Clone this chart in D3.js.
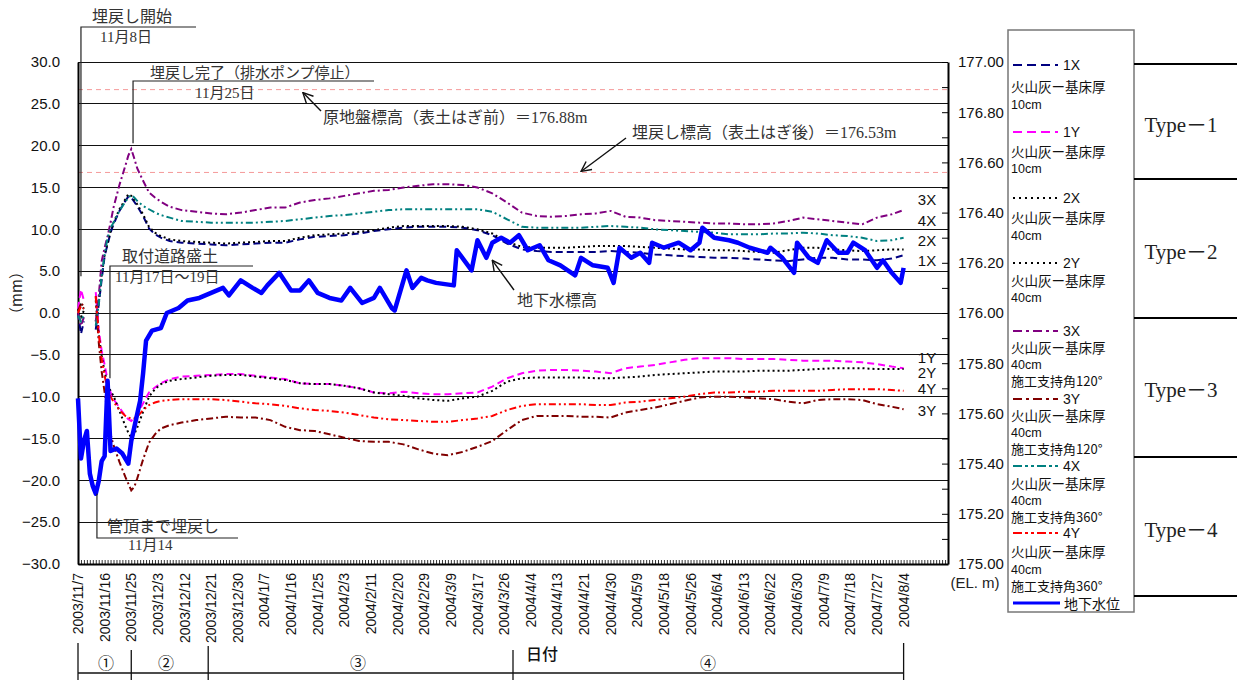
<!DOCTYPE html>
<html><head><meta charset="utf-8">
<script src="https://cdn.jsdelivr.net/npm/d3@7"></script>
<style>body{margin:0;background:#fff} svg{display:block}</style>
</head><body><svg id="c" width="1237" height="680"></svg>
<script>
// ---------- DATA ----------
const xLabels = ['2003/11/7','2003/11/16','2003/11/25','2003/12/3','2003/12/12','2003/12/21','2003/12/30','2004/1/7','2004/1/16','2004/1/25','2004/2/3','2004/2/11','2004/2/20','2004/2/29','2004/3/9','2004/3/17','2004/3/26','2004/4/4','2004/4/13','2004/4/21','2004/4/30','2004/5/9','2004/5/18','2004/5/26','2004/6/4','2004/6/13','2004/6/22','2004/6/30','2004/7/9','2004/7/18','2004/7/27','2004/8/4'];
const leftTicks = [-30,-25,-20,-15,-10,-5,0,5,10,15,20,25,30];
const rightTicks = [175.0,175.2,175.4,175.6,175.8,176.0,176.2,176.4,176.6,176.8,177.0];
const rightMinor = [175.0,175.1,175.2,175.3,175.4,175.5,175.6,175.7,175.8,175.9,176.0,176.1,176.2,176.3,176.4,176.5,176.6,176.7,176.8,176.9,177.0];

// category index of each displacement sample
const dIdx = [0,1,2,3,6,7,8,9,10,11,12,14,16,17,18,19,20,22,24,26,28,31,35,
  40,45,50,55,60,65,70,75,80,85,90,95,100,105,110,115,120,125,130,135,140,145,150,155,160,165,170,175,180,185,190,195,200,205,210,215,220,225,230,235,240,245,250,255,260,265,270,275,279];

const s1X = [0,-2.5,-1.0,null,-2.0,1.0,4.0,6.8,8.2,9.6,10.6,12.2,13.4,13.9,13.8,13.3,12.8,11.6,10.1,9.4,9.0,8.6,8.4,
  8.3,8.2,8.1,8.2,8.3,8.4,8.4,8.8,9.1,9.2,9.3,9.5,9.8,10.0,10.2,10.3,10.3,10.3,10.2,9.9,9.3,8.3,7.6,7.4,7.3,7.3,7.3,7.3,7.4,7.3,7.2,7.0,6.9,6.8,6.7,6.6,6.6,6.5,6.4,6.3,6.2,6.4,6.6,6.6,6.4,6.4,6.3,6.5,6.9];
const s1Y = [0.5,2.8,1.5,null,2.5,-2.0,-4.5,-6.2,-8.0,-9.5,-10.3,-11.3,-12.3,-12.7,-12.9,-12.6,-12.1,-10.8,-9.5,-8.9,-8.4,-7.9,-7.6,
  -7.5,-7.4,-7.3,-7.3,-7.5,-7.7,-7.9,-8.4,-8.5,-8.5,-8.7,-9.0,-9.5,-9.6,-9.4,-9.6,-9.7,-9.7,-9.6,-9.5,-8.8,-7.8,-7.2,-6.9,-6.8,-6.8,-6.9,-7.0,-7.2,-6.6,-6.4,-6.2,-5.9,-5.6,-5.4,-5.4,-5.4,-5.5,-5.5,-5.5,-5.6,-5.7,-5.7,-5.7,-5.8,-5.9,-6.1,-6.4,-6.6];
const s2X = [0,-0.5,0.3,null,-1.0,1.5,4.5,7.0,8.3,9.8,10.8,12.4,13.6,14.2,14.0,13.5,13.0,11.8,10.3,9.6,9.2,8.8,8.6,
  8.5,8.4,8.3,8.4,8.5,8.6,8.6,9.0,9.3,9.4,9.5,9.7,9.9,10.2,10.4,10.4,10.4,10.4,10.3,10.0,9.5,8.5,7.9,7.8,7.8,7.8,7.9,8.0,8.0,8.0,7.9,7.8,7.7,7.6,7.6,7.5,7.5,7.4,7.3,7.2,7.5,7.8,7.8,7.6,7.5,7.4,7.5,7.6,7.6];
const s2Y = [0.3,1.0,0.5,null,1.5,-2.5,-5.2,-7.0,-8.5,-9.3,-9.9,-11.7,-13.5,-14.3,-14.9,-14.5,-13.7,-11.8,-10.0,-9.1,-8.5,-8.1,-7.9,
  -7.7,-7.5,-7.4,-7.4,-7.6,-7.8,-8.0,-8.4,-8.5,-8.5,-8.7,-9.0,-9.5,-9.7,-9.9,-10.2,-10.4,-10.5,-10.2,-10.0,-9.3,-8.2,-7.8,-7.7,-7.7,-7.7,-7.7,-7.8,-7.8,-7.7,-7.6,-7.4,-7.3,-7.2,-7.1,-7.0,-7.0,-7.0,-6.9,-6.9,-6.9,-6.8,-6.7,-6.6,-6.6,-6.6,-6.7,-6.7,-6.7];
const s3X = [0,-1.5,-0.5,null,-1.0,2.0,6.2,7.8,9.2,10.8,12.6,15.3,17.6,18.8,19.6,18.5,17.3,15.8,14.4,13.8,13.3,12.7,12.3,
  12.1,11.9,11.8,12.0,12.3,12.6,12.6,13.2,13.5,13.7,14.0,14.3,14.6,14.7,15.0,15.2,15.4,15.4,15.3,15.0,14.3,13.2,12.0,11.6,11.5,11.6,11.8,11.9,12.2,11.5,11.4,11.1,11.0,10.9,10.8,10.7,10.7,10.6,10.6,10.7,11.0,11.4,11.2,11.0,10.8,10.6,11.4,11.8,12.3];
const s3Y = [0.2,1.2,0.8,null,2.0,-3.5,-7.0,-9.5,-12.0,-14.5,-15.8,-17.8,-19.6,-20.4,-21.2,-20.8,-19.8,-17.5,-15.5,-14.5,-13.8,-13.4,-13.1,
  -12.8,-12.6,-12.4,-12.5,-12.5,-12.8,-13.6,-14.0,-14.1,-14.5,-14.9,-15.3,-15.4,-15.4,-15.7,-16.3,-16.8,-17.0,-16.6,-16.0,-15.3,-14.0,-12.8,-12.3,-12.3,-12.3,-12.4,-12.4,-12.5,-11.9,-11.6,-11.3,-10.9,-10.5,-10.1,-10.0,-10.0,-10.1,-10.2,-10.3,-10.6,-10.8,-10.4,-10.3,-10.3,-10.4,-10.9,-11.2,-11.5];
const s4X = [-0.3,-1.0,-0.2,null,-1.5,1.0,4.5,7.0,9.0,10.2,10.8,12.2,13.3,13.8,14.1,13.8,13.4,12.8,12.4,12.0,11.7,11.4,11.0,
  10.9,10.8,10.8,10.8,10.8,10.9,11.0,11.2,11.4,11.6,11.7,11.9,12.1,12.3,12.4,12.4,12.4,12.4,12.4,12.4,12.1,11.2,10.3,10.2,10.2,10.2,10.2,10.3,10.4,10.3,10.2,10.0,9.9,9.8,9.7,9.6,9.4,9.4,9.4,9.5,9.5,9.6,9.5,9.3,9.2,9.0,8.6,8.7,9.0];
const s4Y = [0,0.8,0.5,null,2.0,-2.5,-5.5,-7.5,-9.2,-10.0,-10.6,-11.6,-12.3,-12.5,-12.6,-12.6,-12.4,-11.6,-11.0,-10.7,-10.5,-10.4,-10.3,
  -10.3,-10.3,-10.4,-10.6,-10.8,-10.9,-11.1,-11.4,-11.6,-11.7,-11.9,-12.2,-12.5,-12.7,-12.8,-12.9,-13.0,-13.0,-12.8,-12.6,-12.3,-11.6,-11.1,-10.9,-10.9,-10.9,-10.9,-11.0,-11.0,-10.7,-10.6,-10.4,-10.2,-10.0,-9.7,-9.5,-9.5,-9.4,-9.4,-9.3,-9.3,-9.3,-9.3,-9.2,-9.1,-9.1,-9.1,-9.2,-9.3];

// groundwater level (EL. m), right axis
const gwIdx = [0,1,2,3,4,5,6,7,8,9,10,11,13,15,17,18,21,22,23,25,28,30,34,37,41,45,49,51,55,59,62,64,68,72,75,78,81,85,89,92,96,100,102,106,107,111,113,116,118,121,127,128,133,135,138,140,143,146,149,152,156,159,163,168,170,174,179,181,183,187,190,193,194,198,203,207,210,211,215,220,223,227,233,234,238,242,243,247,250,253,257,260,262,266,270,272,275,278,279];
const gwEL = [175.66,175.42,175.49,175.53,175.36,175.31,175.28,175.33,175.41,175.43,175.73,175.45,175.46,175.44,175.40,175.49,175.65,175.76,175.89,175.93,175.94,176.00,176.02,176.05,176.06,176.08,176.10,176.07,176.13,176.10,176.08,176.11,176.16,176.09,176.09,176.13,176.08,176.06,176.05,176.10,176.04,176.06,176.10,176.02,176.01,176.17,176.10,176.14,176.13,176.12,176.11,176.25,176.17,176.29,176.22,176.28,176.30,176.28,176.31,176.25,176.27,176.21,176.19,176.15,176.22,176.19,176.18,176.12,176.26,176.22,176.24,176.20,176.28,176.26,176.28,176.25,176.28,176.34,176.30,176.29,176.28,176.26,176.24,176.26,176.22,176.16,176.28,176.22,176.20,176.29,176.24,176.24,176.28,176.25,176.18,176.21,176.16,176.12,176.18];

const refEL = [176.89, 176.56];

const seriesNames = ['1X','1Y','2X','2Y','3X','3Y','4X','4Y'];
const seriesVals = [s1X,s1Y,s2X,s2Y,s3X,s3Y,s4X,s4Y];
const legendDesc = [
  ['火山灰ー基床厚','10cm'],['火山灰ー基床厚','10cm'],
  ['火山灰ー基床厚','40cm'],['火山灰ー基床厚','40cm'],
  ['火山灰ー基床厚','40cm','施工支持角120°'],['火山灰ー基床厚','40cm','施工支持角120°'],
  ['火山灰ー基床厚','40cm','施工支持角360°'],['火山灰ー基床厚','40cm','施工支持角360°']];
const typeLabels = ['Type－1','Type－2','Type－3','Type－4'];
const phaseLabels = ['①','②','③','④'];

// ---------- STYLE ----------
const colors = {'1X':'#000080','1Y':'#FF00FF','2X':'#000000','2Y':'#000000','3X':'#800080','3Y':'#800000','4X':'#008080','4Y':'#FF0000'};
const dashes = {'1X':'7,4','1Y':'7,4','2X':'2,3','2Y':'2,3','3X':'7,3,2,3','3Y':'7,3,2,3','4X':'7,3,2,3,2,3','4Y':'7,3,2,3,2,3'};
const legDashes = {'1X':'9,5','1Y':'9,5','2X':'2,4','2Y':'2,4','3X':'9,4,3,4','3Y':'9,4,3,4','4X':'9,3,3,3,3,3','4Y':'9,3,3,3,3,3'};
const SANS = "'Liberation Sans', Arial, sans-serif";
const JP = "'Noto Sans CJK JP', sans-serif";
const SERIFJP = "'Liberation Serif', 'Noto Sans CJK JP', serif";

const svg = d3.select('#c');
const L = 78, R = 948, T = 62, B = 564;
const x = d3.scaleLinear().domain([0, 294]).range([L, R]);
const yL = d3.scaleLinear().domain([-30, 30]).range([B, T]);
const yR = d3.scaleLinear().domain([175, 177]).range([B, T]);

// gridlines
svg.append('g').selectAll('line').data(leftTicks).join('line')
  .attr('x1', L).attr('x2', R).attr('y1', d => yL(d)).attr('y2', d => yL(d))
  .attr('stroke', '#111').attr('stroke-width', 1).attr('shape-rendering','crispEdges');

// reference pink dashed lines
svg.append('g').selectAll('line').data(refEL).join('line')
  .attr('x1', L).attr('x2', R).attr('y1', d => yR(d)).attr('y2', d => yR(d))
  .attr('stroke', '#F59A9A').attr('stroke-width', 1).attr('stroke-dasharray','5,4');

// left axis
const gl = svg.append('g').attr('transform', `translate(${L},0)`)
  .call(d3.axisLeft(yL).tickValues(leftTicks).tickSize(0).tickPadding(18).tickFormat(d3.format('.1f')));
gl.select('.domain').attr('stroke','#000').attr('stroke-width',2);
gl.selectAll('text').attr('font-family', SANS).attr('font-size', 15).attr('fill','#111');

// right axis
const gr = svg.append('g').attr('transform', `translate(${R},0)`)
  .call(d3.axisRight(yR).tickValues(rightMinor).tickSizeInner(-6).tickSizeOuter(0).tickFormat(''));
gr.select('.domain').attr('stroke','#000').attr('stroke-width',2);
gr.selectAll('line').attr('stroke','#000');
const gr2 = svg.append('g').attr('transform', `translate(${R},0)`)
  .call(d3.axisRight(yR).tickValues(rightTicks).tickSize(0).tickPadding(10).tickFormat(d3.format('.2f')));
gr2.select('.domain').remove();
gr2.selectAll('text').attr('font-family', SANS).attr('font-size', 15).attr('fill','#111');

// bottom axis (category ticks)
const gb = svg.append('g').attr('transform', `translate(0,${B})`)
  .call(d3.axisBottom(x).tickValues(d3.range(0, 295)).tickSizeInner(-4).tickSizeOuter(0).tickFormat(''));
gb.select('.domain').attr('stroke','#000').attr('stroke-width',2);
gb.selectAll('line').attr('stroke','#000').attr('stroke-width',0.8);

svg.append('g').selectAll('text').data(xLabels).join('text')
  .attr('transform', (d, i) => `translate(${x(i * 9)},573) rotate(-90)`)
  .attr('dy','0.36em').attr('text-anchor','end')
  .attr('font-family', SANS).attr('font-size', 14).attr('fill','#111').text(d => d);

// axis titles
svg.append('text').attr('transform','translate(17,293) rotate(-90)').attr('text-anchor','middle')
  .attr('dy','0.35em').attr('font-family', JP).attr('font-size',15).attr('fill','#222').text('（mm）');
svg.append('text').attr('x',975).attr('y',583).attr('text-anchor','middle').attr('dy','0.35em')
  .attr('font-family', SANS).attr('font-size',15).attr('fill','#222').text('(EL. m)');

// displacement lines
const line = d3.line().defined(d => d[1] != null).x(d => x(d[0])).y(d => yL(d[1]));
seriesNames.forEach((n, k) => {
  const pts = dIdx.map((ix, i) => [ix, seriesVals[k][i]]);
  svg.append('path').datum(pts).attr('d', line).attr('fill','none')
    .attr('stroke', colors[n]).attr('stroke-width', 2).attr('stroke-dasharray', dashes[n]);
});

// groundwater line
const gwLine = d3.line().x(d => x(d[0])).y(d => yR(d[1])).curve(d3.curveLinear);
svg.append('path').datum(gwIdx.map((ix, i) => [ix, gwEL[i]])).attr('d', gwLine)
  .attr('fill','none').attr('stroke','#0000FF').attr('stroke-width',4.5).attr('stroke-linejoin','round');

// right-end series labels
const endLab = [['3X',200],['4X',221],['2X',241],['1X',261],['1Y',358],['2Y',373],['4Y',389],['3Y',411]];
svg.append('g').selectAll('text').data(endLab).join('text')
  .attr('x', 927).attr('y', d => d[1]).attr('dy','0.35em').attr('text-anchor','middle')
  .attr('font-family', SANS).attr('font-size',15).attr('fill','#111').text(d => d[0]);

// ---------- annotations ----------
const ann = svg.append('g').attr('fill','none').attr('stroke','#222').attr('stroke-width',1.2);
const txt = (s, xx, yy, size, anchor) => svg.append('text').attr('x', xx).attr('y', yy)
  .attr('text-anchor', anchor || 'start').attr('font-family', SERIFJP).attr('font-size', size || 16)
  .attr('fill','#333').text(s);

svg.append('defs').append('marker').attr('id','arr').attr('viewBox','0 0 12 12')
  .attr('refX',11).attr('refY',6).attr('markerWidth',12).attr('markerHeight',12)
  .attr('markerUnits','userSpaceOnUse').attr('orient','auto')
  .append('path').attr('d','M1,1 L11,6 L1,11').attr('fill','none').attr('stroke','#111').attr('stroke-width',1.4);

// 埋戻し開始
ann.append('path').attr('d', `M${x(1)},${yL(4.4)} V27 H196`);
txt('埋戻し開始', 92, 22, 16);
txt('11月8日', 100, 42, 15);
// 埋戻し完了
ann.append('path').attr('d', `M${x(18.6)},${yL(20.3)} V81 H374`);
txt('埋戻し完了（排水ポンプ停止）', 150, 78, 15);
txt('11月25日', 195, 98, 15);
// 取付道路盛土
ann.append('path').attr('d', `M${x(10.8)},${yL(-7.8)} V266 H253`);
txt('取付道路盛土', 122, 262, 16);
txt('11月17日～19日', 115, 282, 15);
// 管頂まで埋戻し
ann.append('path').attr('d', `M${x(6.4)},${yR(175.28)} V538 H238`);
txt('管頂まで埋戻し', 107, 532, 16);
txt('11月14', 128, 550, 15);

// arrows
svg.append('line').attr('x1',321).attr('y1',111).attr('x2',x(76)).attr('y2',yR(refEL[0]) + 3)
  .attr('stroke','#111').attr('stroke-width',1.4).attr('marker-end','url(#arr)');
txt('原地盤標高（表土はぎ前）＝176.88m', 323, 123, 16);
svg.append('line').attr('x1',626).attr('y1',138).attr('x2',x(170)).attr('y2',yR(refEL[1]) - 1)
  .attr('stroke','#111').attr('stroke-width',1.4).attr('marker-end','url(#arr)');
txt('埋戻し標高（表土はぎ後）＝176.53m', 632, 138, 16);
svg.append('line').attr('x1',514).attr('y1',290).attr('x2',x(140)).attr('y2',yR(176.21))
  .attr('stroke','#111').attr('stroke-width',1.4).attr('marker-end','url(#arr)');
txt('地下水標高', 517, 306, 16);

// phase brackets below axis
const br = svg.append('g').attr('stroke','#111').attr('stroke-width',1.3).attr('fill','none');
br.append('line').attr('x1', x(0)).attr('x2', x(279)).attr('y1',673).attr('y2',673);
[[0,643],[18,650],[44,646],[147,650],[279,643]].forEach(d =>
  br.append('line').attr('x1', x(d[0])).attr('x2', x(d[0])).attr('y1', d[1]).attr('y2', 680));
[[106,663],[166,663],[358,663],[708,663]].forEach((d, i) =>
  svg.append('text').attr('x', d[0]).attr('y', d[1]).attr('dy','0.35em').attr('text-anchor','middle')
    .attr('font-family', JP).attr('font-size',16).attr('fill','#111').text(phaseLabels[i]));
svg.append('text').attr('x',542).attr('y',654).attr('dy','0.35em').attr('text-anchor','middle')
  .attr('font-family', JP).attr('font-size',16).attr('font-weight',500).attr('fill','#111').text('日付');

// ---------- legend ----------
svg.append('rect').attr('x',1008).attr('y',30).attr('width',126).attr('height',582)
  .attr('fill','#fff').attr('stroke','#777').attr('stroke-width',1.5);
const legY = [[65,87,104],[132,152,168],[198,218,235],[263,281,297],[331,348,364,381],[399,416,432,449],[466,484,500,517],[533,552,569,586]];
const lg = svg.append('g');
seriesNames.forEach((n, k) => {
  const ys = legY[k];
  lg.append('line').attr('x1',1013).attr('x2',1058).attr('y1',ys[0]).attr('y2',ys[0])
    .attr('stroke',colors[n]).attr('stroke-width',2.2).attr('stroke-dasharray',legDashes[n]);
  lg.append('text').attr('x',1063).attr('y',ys[0]).attr('dy','0.36em')
    .attr('font-family',SANS).attr('font-size',14).attr('fill','#111').text(n);
  legendDesc[k].forEach((s, j) => {
    const isCm = s.endsWith('cm');
    const size = isCm ? 12.5 : (j === 2 ? 13 : 13.5);
    lg.append('text').attr('x',1011).attr('y',ys[j+1]).attr('dy','0.36em')
      .attr('font-family', isCm ? SANS : JP).attr('font-size', size).attr('fill','#111').text(s);
  });
});
lg.append('line').attr('x1',1013).attr('x2',1060).attr('y1',603).attr('y2',603)
  .attr('stroke','#0000FF').attr('stroke-width',3);
lg.append('text').attr('x',1064).attr('y',604).attr('dy','0.36em')
  .attr('font-family', JP).attr('font-size',14).attr('fill','#111').text('地下水位');

// Type section
svg.append('g').selectAll('line').data([64,179,318,457,596]).join('line')
  .attr('x1',1134).attr('x2',1237).attr('y1',d=>d).attr('y2',d=>d).attr('stroke','#000').attr('stroke-width',2);
svg.append('g').selectAll('text').data(typeLabels).join('text')
  .attr('x',1181).attr('y',(d,i)=>[125,252,390,530][i]).attr('dy','0.35em').attr('text-anchor','middle')
  .attr('font-family', SERIFJP).attr('font-size',21).attr('fill','#222').text(d=>d);
</script></body></html>
